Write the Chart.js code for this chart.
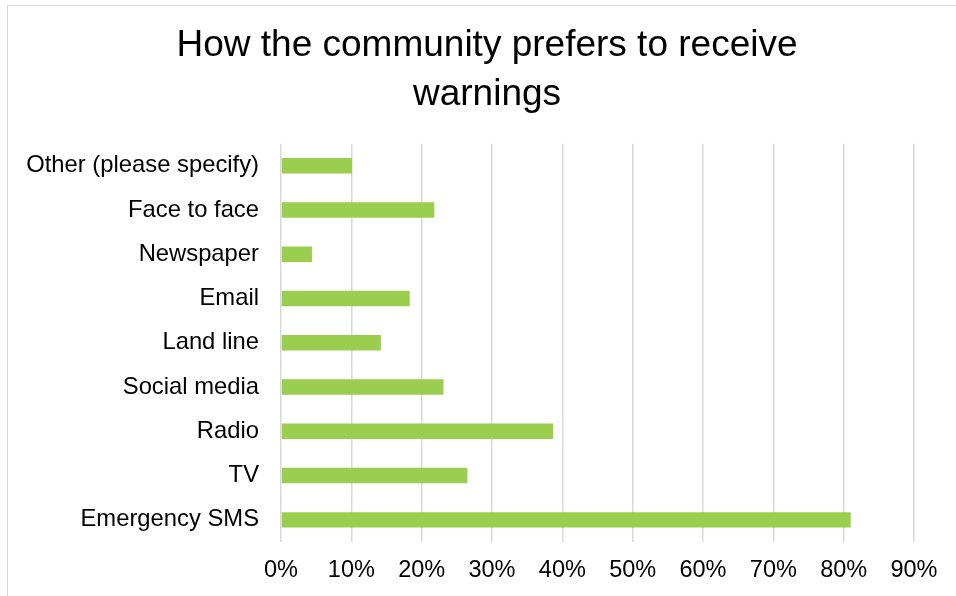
<!DOCTYPE html>
<html>
<head>
<meta charset="utf-8">
<script src="https://cdn.jsdelivr.net/npm/chart.js@4/dist/chart.umd.min.js"></script>
<style>
  html, body { margin: 0; padding: 0; background: #fff; }
  #wrap { position: relative; width: 956px; height: 596px; overflow: hidden; }
  #frame { position: absolute; left: 7px; top: 5px; width: 960px; height: 600px;
           border-left: 1.5px solid #d9d9d9; border-top: 1.5px solid #d9d9d9; }
  canvas { position: absolute; left: 0; top: 0; }
</style>
</head>
<body>
<div id="wrap">
  <div id="frame"></div>
  <canvas id="c" width="956" height="596"></canvas>
</div>
<script>
const chartTitle = ["How the community prefers to receive", "warnings"];
const categories = ["Other (please specify)", "Face to face", "Newspaper", "Email", "Land line",
                    "Social media", "Radio", "TV", "Emergency SMS"];
const shares = [10.1, 21.8, 4.4, 18.3, 14.2, 23.1, 38.7, 26.5, 81.0];
const tickLabels = ["0%", "10%", "20%", "30%", "40%", "50%", "60%", "70%", "80%", "90%"];

const FONT = "'Liberation Sans', Arial, sans-serif";

// Centre the title a little to the right, as in the original layout
const titleShift = {
  id: 'titleShift',
  afterLayout(chart) {
    if (chart.titleBlock) { chart.titleBlock.left = 60; }
  }
};

new Chart(document.getElementById('c'), {
  type: 'bar',
  data: {
    labels: categories,
    datasets: [{
      data: shares,
      backgroundColor: '#9bcd4f',
      borderWidth: 0,
      categoryPercentage: 0.7,
      barPercentage: 0.5
    }]
  },
  plugins: [titleShift],
  options: {
    indexAxis: 'y',
    responsive: false,
    animation: false,
    layout: { padding: { left: 0, right: 42, top: 0, bottom: 0 } },
    plugins: {
      legend: { display: false },
      tooltip: { enabled: false },
      title: {
        display: true,
        text: chartTitle,
        color: '#000',
        font: { family: FONT, size: 37, weight: 'normal', lineHeight: 1.32 },
        padding: { top: 21.5, bottom: 24.5 }
      }
    },
    scales: {
      x: {
        min: 0, max: 90,
        ticks: {
          stepSize: 10,
          color: '#000',
          padding: 14,
          font: { family: FONT, size: 23.5 },
          callback: (v, i) => tickLabels[i]
        },
        grid: { color: '#d9d9d9', lineWidth: 1.5, drawTicks: false },
        border: { display: false },
        afterFit: s => { s.height = 54; }
      },
      y: {
        ticks: {
          color: '#000',
          padding: 22,
          font: { family: FONT, size: 23.8 }
        },
        grid: { display: false, drawTicks: false },
        border: { display: false },
        afterFit: s => { s.width = 281; }
      }
    }
  }
});
</script>
</body>
</html>
